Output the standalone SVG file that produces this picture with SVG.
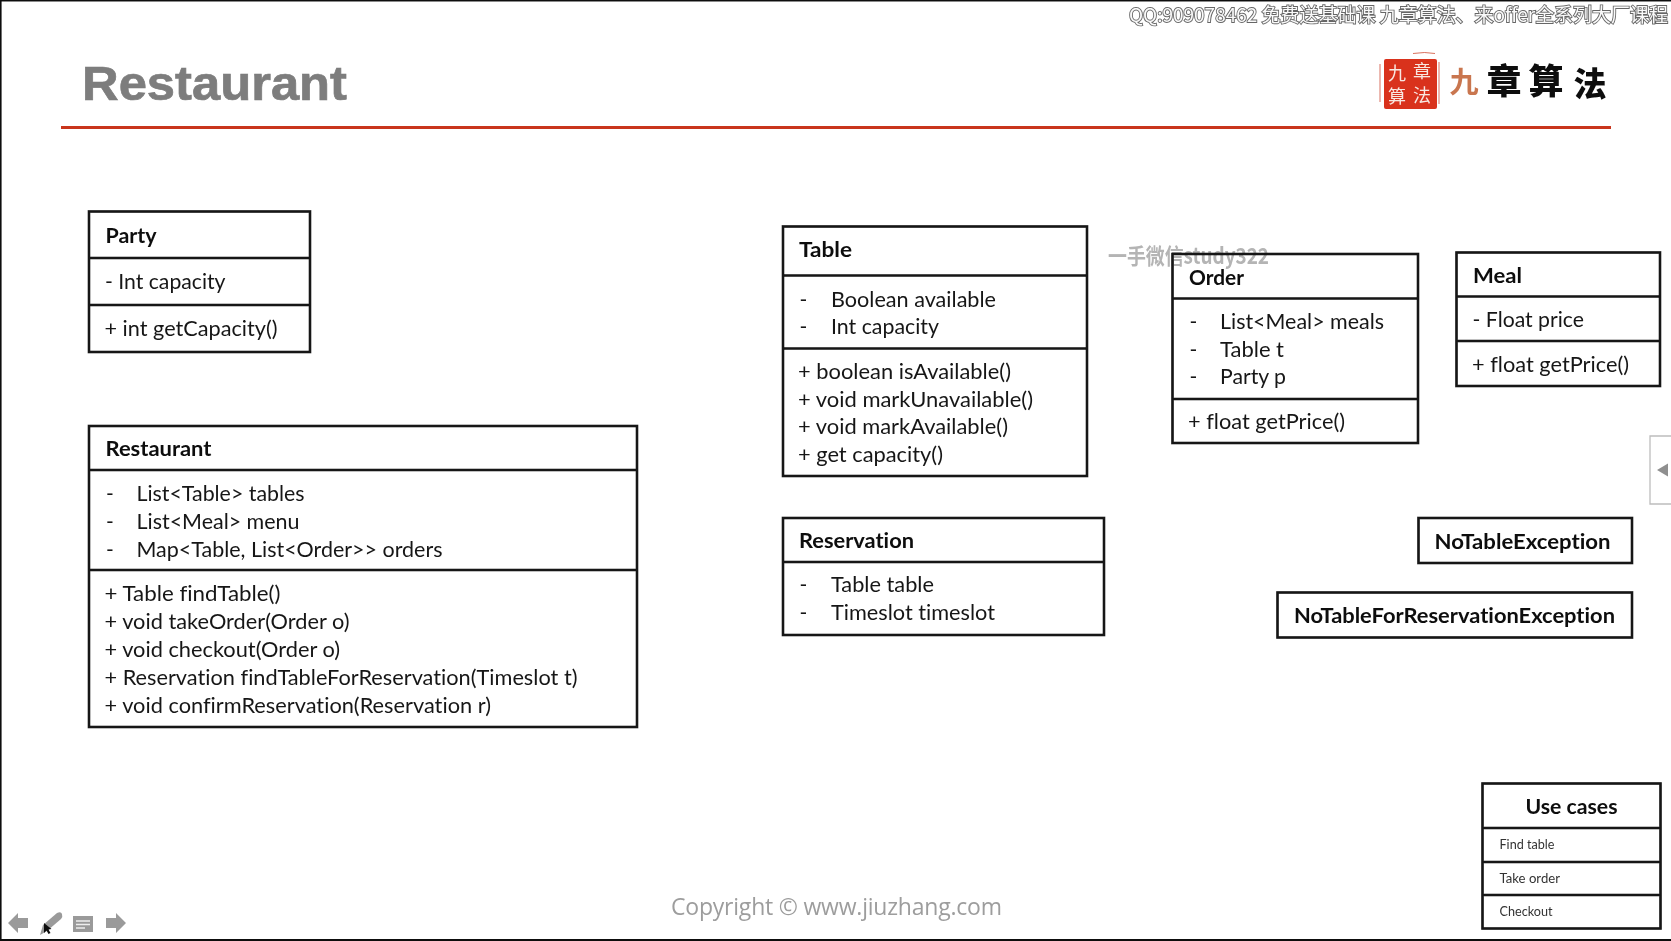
<svg xmlns="http://www.w3.org/2000/svg" width="1671" height="941" viewBox="0 0 1671 941">
<style>
text{font-family:"Lato","Liberation Sans","Noto Sans CJK SC",sans-serif;fill:#111;font-variant-ligatures:none}
.t{font-size:21px;font-weight:400;fill:#161616}
.b{font-size:21px;font-weight:700;fill:#0c0c0c}
.s{font-size:13.5px;fill:#333}
.box{fill:none;stroke:#151515;stroke-width:2.6}
.div{stroke:#151515;stroke-width:2.6}
.cjk{font-family:"Noto Sans CJK SC","Liberation Sans",sans-serif}
.ic{fill:#9a9a9a}
</style>
<defs>
<filter id="soft" filterUnits="userSpaceOnUse" x="0" y="0" width="1671" height="941"><feGaussianBlur stdDeviation="0.35"/></filter>
</defs>
<rect width="1671" height="941" fill="#fff"/>
<g filter="url(#soft)">
<rect x="0" y="0" width="1671" height="1.5" fill="#111"/>
<rect x="0" y="0" width="1.6" height="941" fill="#111"/>
<rect x="0" y="939" width="1671" height="2" fill="#111"/>

<g id="header">
<text x="82" y="100" font-weight="700" font-size="49" stroke="#7d7d7d" stroke-width="0.7" style="font-family:'Liberation Sans',sans-serif;fill:#7d7d7d" textLength="265" lengthAdjust="spacingAndGlyphs">Restaurant</text>
<line x1="61" y1="127.500" x2="1611" y2="127.500" stroke="#c9361b" stroke-width="3"/>
</g>

<g id="logo">
<rect x="1384" y="59" width="53" height="50" rx="2" fill="#d9301f"/>
<path d="M1380 64V102M1413 53.500Q1425 51.500 1435 53.500M1439 62V104" fill="none" stroke="#c9361b" stroke-width="1" opacity="0.7"/>
<text class="cjk" x="1422" y="78" font-size="18" text-anchor="middle" style="fill:#f8e8e0">章</text>
<text class="cjk" x="1422" y="102" font-size="18" text-anchor="middle" style="fill:#f8e8e0">法</text>
<text class="cjk" x="1397" y="80" font-size="18" text-anchor="middle" style="fill:#f8e8e0">九</text>
<text class="cjk" x="1397" y="103" font-size="18" text-anchor="middle" style="fill:#f8e8e0">算</text>
<text class="cjk" x="1464" y="93" font-size="29" font-weight="700" text-anchor="middle" style="fill:#c9764f">九</text>
<text class="cjk" x="1504" y="94" font-size="35" font-weight="900" text-anchor="middle" style="fill:#111">章</text>
<text class="cjk" x="1546" y="94" font-size="35" font-weight="900" text-anchor="middle" style="fill:#111">算</text>
<text class="cjk" x="1590" y="96" font-size="33" font-weight="900" text-anchor="middle" style="fill:#111">法</text>
</g>

<g id="watermarks">
<text class="cjk" x="1129" y="22" font-size="19" textLength="539" lengthAdjust="spacingAndGlyphs" stroke="#666" stroke-width="1.800" paint-order="stroke" style="fill:#fafafa">QQ:909078462 免费送基础课 九章算法、来offer全系列大厂课程</text>
<text class="cjk" x="1108" y="264" font-size="22" font-weight="700" textLength="161" lengthAdjust="spacingAndGlyphs" style="fill:#b4b4b4">一手微信study322</text>
</g>

<g id="connectors"/>

<g id="party">
<rect class="box" x="89" y="211.500" width="221" height="140.500"/>
<line class="div" x1="89" y1="258" x2="310" y2="258"/>
<line class="div" x1="89" y1="305" x2="310" y2="305"/>
<text class="b" x="105.500" y="242.500" textLength="51" lengthAdjust="spacingAndGlyphs">Party</text>
<text class="t" x="105" y="289" textLength="120.500" lengthAdjust="spacingAndGlyphs">- Int capacity</text>
<text class="t" x="104.500" y="335.500" textLength="173" lengthAdjust="spacingAndGlyphs">+ int getCapacity()</text>
</g>

<g id="restaurant">
<rect class="box" x="89" y="426" width="548" height="301"/>
<line class="div" x1="89" y1="470" x2="637" y2="470"/>
<line class="div" x1="89" y1="570" x2="637" y2="570"/>
<text class="b" x="105.500" y="456" textLength="106" lengthAdjust="spacingAndGlyphs">Restaurant</text>
<text class="t" x="106" y="501">-</text><text class="t" x="136.500" y="501" textLength="168" lengthAdjust="spacingAndGlyphs">List&lt;Table&gt; tables</text>
<text class="t" x="106" y="528.500">-</text><text class="t" x="136.500" y="528.500" textLength="163" lengthAdjust="spacingAndGlyphs">List&lt;Meal&gt; menu</text>
<text class="t" x="106" y="557">-</text><text class="t" x="136.500" y="557" textLength="306" lengthAdjust="spacingAndGlyphs">Map&lt;Table, List&lt;Order&gt;&gt; orders</text>
<text class="t" x="104.500" y="601" textLength="176" lengthAdjust="spacingAndGlyphs">+ Table findTable()</text>
<text class="t" x="104.500" y="629" textLength="245" lengthAdjust="spacingAndGlyphs">+ void takeOrder(Order o)</text>
<text class="t" x="104.500" y="656.500" textLength="235.500" lengthAdjust="spacingAndGlyphs">+ void checkout(Order o)</text>
<text class="t" x="104.500" y="684.500" textLength="473" lengthAdjust="spacingAndGlyphs">+ Reservation findTableForReservation(Timeslot t)</text>
<text class="t" x="104.500" y="712.500" textLength="386.500" lengthAdjust="spacingAndGlyphs">+ void confirmReservation(Reservation r)</text>
</g>

<g id="table">
<rect class="box" x="783" y="226.500" width="304" height="249.500"/>
<line class="div" x1="783" y1="275.500" x2="1087" y2="275.500"/>
<line class="div" x1="783" y1="348.500" x2="1087" y2="348.500"/>
<text class="b" x="799" y="256.500" textLength="53" lengthAdjust="spacingAndGlyphs">Table</text>
<text class="t" x="799.500" y="306.500">-</text><text class="t" x="831" y="306.500" textLength="165" lengthAdjust="spacingAndGlyphs">Boolean available</text>
<text class="t" x="799.500" y="334">-</text><text class="t" x="831" y="334" textLength="108" lengthAdjust="spacingAndGlyphs">Int capacity</text>
<text class="t" x="798" y="378.500" textLength="213" lengthAdjust="spacingAndGlyphs">+ boolean isAvailable()</text>
<text class="t" x="798" y="406.500" textLength="235" lengthAdjust="spacingAndGlyphs">+ void markUnavailable()</text>
<text class="t" x="798" y="434" textLength="210" lengthAdjust="spacingAndGlyphs">+ void markAvailable()</text>
<text class="t" x="798" y="461.500" textLength="145" lengthAdjust="spacingAndGlyphs">+ get capacity()</text>
</g>

<g id="reservation">
<rect class="box" x="783" y="518" width="321" height="117"/>
<line class="div" x1="783" y1="562" x2="1104" y2="562"/>
<text class="b" x="799" y="548" textLength="115" lengthAdjust="spacingAndGlyphs">Reservation</text>
<text class="t" x="799.500" y="592">-</text><text class="t" x="831" y="592" textLength="103" lengthAdjust="spacingAndGlyphs">Table table</text>
<text class="t" x="799.500" y="620">-</text><text class="t" x="831" y="620" textLength="164" lengthAdjust="spacingAndGlyphs">Timeslot timeslot</text>
</g>

<g id="order">
<rect class="box" x="1172.500" y="254" width="245.500" height="189"/>
<line class="div" x1="1172.500" y1="298.500" x2="1418" y2="298.500"/>
<line class="div" x1="1172.500" y1="399" x2="1418" y2="399"/>
<text class="b" x="1189" y="284.500" textLength="55" lengthAdjust="spacingAndGlyphs">Order</text>
<text class="t" x="1189.500" y="329">-</text><text class="t" x="1220" y="329" textLength="164" lengthAdjust="spacingAndGlyphs">List&lt;Meal&gt; meals</text>
<text class="t" x="1189.500" y="356.500">-</text><text class="t" x="1220" y="356.500" textLength="64" lengthAdjust="spacingAndGlyphs">Table t</text>
<text class="t" x="1189.500" y="384">-</text><text class="t" x="1220" y="384" textLength="66" lengthAdjust="spacingAndGlyphs">Party p</text>
<text class="t" x="1188" y="428.500" textLength="157" lengthAdjust="spacingAndGlyphs">+ float getPrice()</text>
</g>

<g id="meal">
<rect class="box" x="1456.500" y="252.500" width="203.500" height="133.500"/>
<line class="div" x1="1456.500" y1="296.500" x2="1660" y2="296.500"/>
<line class="div" x1="1456.500" y1="341" x2="1660" y2="341"/>
<text class="b" x="1473" y="282.500" textLength="49" lengthAdjust="spacingAndGlyphs">Meal</text>
<text class="t" x="1472.500" y="327" textLength="111.500" lengthAdjust="spacingAndGlyphs">- Float price</text>
<text class="t" x="1472" y="371.500" textLength="157" lengthAdjust="spacingAndGlyphs">+ float getPrice()</text>
</g>

<g id="no-table-exception">
<rect class="box" x="1418.500" y="518" width="213.500" height="45"/>
<text class="b" x="1434.500" y="548.500" textLength="176" lengthAdjust="spacingAndGlyphs">NoTableException</text>
</g>

<g id="no-table-for-reservation-exception">
<rect class="box" x="1277.500" y="592.500" width="354.500" height="45"/>
<text class="b" x="1294" y="622.500" textLength="321" lengthAdjust="spacingAndGlyphs">NoTableForReservationException</text>
</g>

<g id="use-cases">
<rect class="box" x="1482.500" y="783.500" width="178" height="145"/>
<line class="div" x1="1482.500" y1="828" x2="1660.500" y2="828"/>
<line class="div" x1="1482.500" y1="862" x2="1660.500" y2="862"/>
<line class="div" x1="1482.500" y1="895" x2="1660.500" y2="895"/>
<text class="b" x="1525.500" y="814" textLength="92" lengthAdjust="spacingAndGlyphs">Use cases</text>
<text class="s" x="1499.500" y="849" textLength="55" lengthAdjust="spacingAndGlyphs">Find table</text>
<text class="s" x="1499.500" y="882.500" textLength="60.500" lengthAdjust="spacingAndGlyphs">Take order</text>
<text class="s" x="1499.500" y="915.500" textLength="53" lengthAdjust="spacingAndGlyphs">Checkout</text>
</g>

<g id="footer">
<text x="671" y="915" font-size="23" textLength="331" style="fill:#9d9d9d;font-family:'Open Sans','Liberation Sans',sans-serif">Copyright © www.jiuzhang.com</text>
</g>

<g id="nav">
<path class="ic" d="M8 923L18 913V918H28V928H18V933Z"/>
<path class="ic" d="M40 935L43 925L57 913Q61 911 62 914Q63 917 61 919L47 931Z"/>
<rect class="ic" x="73" y="916" width="20" height="16"/>
<path d="M76 921H90M76 924.500H90M76 928H85" stroke="#eee" stroke-width="1.300" fill="none"/>
<path class="ic" d="M126 923L116 913V918H106V928H116V933Z"/>
<path d="M44 923V933L46.500 930.500L48.500 934L50.500 933L48.500 929.500L51.500 929Z" fill="#111"/>
</g>

<g id="side-tab">
<path d="M1671 436H1650V504H1671" fill="#fff" stroke="#bdbdbd" stroke-width="1.300"/>
<path d="M1657 470L1668 463.500V476.500Z" fill="#8f8f8f"/>
</g>
</g>
</svg>
